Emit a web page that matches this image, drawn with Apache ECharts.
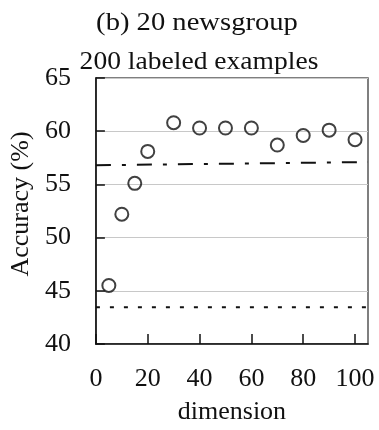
<!DOCTYPE html>
<html>
<head>
<meta charset="utf-8">
<script src="https://cdn.jsdelivr.net/npm/echarts@6/dist/echarts.min.js"></script>
<style>html,body{margin:0;padding:0;background:#fff;}#c{width:379px;height:430px;}</style>
</head>
<body>
<div id="c"></div>
<script>
var titleLine1 = "(b) 20 newsgroup";
var titleLine2 = "200 labeled examples";
var xName = "dimension";
var yName = "Accuracy (%)";
var dims = [5, 10, 15, 20, 30, 40, 50, 60, 70, 80, 90, 100];
var accuracy = [45.5, 52.2, 55.1, 58.1, 60.8, 60.3, 60.3, 60.3, 58.7, 59.6, 60.1, 59.2];
var refX = [0, 105];
var dashDotY = [56.8, 57.1];
var dottedY = [43.45, 43.45];

var FONT = "'Liberation Serif', 'Times New Roman', serif";
function pairs(xs, ys) { return xs.map(function (x, i) { return [x, ys[i]]; }); }

var chart = echarts.init(document.getElementById('c'), null, {renderer: 'canvas'});
chart.setOption({
  animation: false,
  backgroundColor: '#fff',
  graphic: [
    {type: 'text', x: 197, y: 23, scaleX: 1.1, style: {text: titleLine1, font: '26px ' + FONT, fill: '#111', align: 'center', verticalAlign: 'middle'}},
    {type: 'text', x: 199, y: 62, scaleX: 1.06, style: {text: titleLine2, font: '26px ' + FONT, fill: '#111', align: 'center', verticalAlign: 'middle'}}
  ],
  grid: {left: 95, right: 11, top: 78, bottom: 85, show: true, borderColor: '#555', borderWidth: 1.5, containLabel: false},
  xAxis: {
    type: 'value', min: 0, max: 105, interval: 20,
    name: xName, nameLocation: 'middle', nameGap: 55,
    nameTextStyle: {fontFamily: FONT, fontSize: 26, color: '#111'},
    axisLine: {show: true, onZero: false, lineStyle: {color: '#111', width: 1.5}},
    axisTick: {show: true, inside: true, length: 10, lineStyle: {color: '#111', width: 1.5}},
    axisLabel: {fontFamily: FONT, fontSize: 26, color: '#111', margin: 22, showMaxLabel: false},
    splitLine: {show: false}
  },
  yAxis: {
    type: 'value', min: 40, max: 65, interval: 5,
    name: yName, nameLocation: 'middle', nameGap: 52, nameRotate: 90,
    nameTextStyle: {fontFamily: FONT, fontSize: 26, color: '#111', padding: [0, 0, 0, 14]},
    axisLine: {show: true, lineStyle: {color: '#111', width: 1.5}},
    axisTick: {show: true, inside: true, length: 9, lineStyle: {color: '#111', width: 1.5}},
    axisLabel: {fontFamily: FONT, fontSize: 26, color: '#111', margin: 25},
    splitLine: {show: true, lineStyle: {color: '#c8c8c8', width: 1}}
  },
  series: [
    {type: 'line', data: pairs(refX, dashDotY), symbol: 'none', silent: true,
     lineStyle: {color: '#111', width: 2, type: [15, 11, 4, 11]}},
    {type: 'line', data: pairs(refX, dottedY), symbol: 'none', silent: true,
     lineStyle: {color: '#111', width: 2, type: [4, 10]}},
    {type: 'scatter', data: pairs(dims, accuracy), symbol: 'circle', symbolSize: 13,
     itemStyle: {color: 'rgba(255,255,255,0)', borderColor: '#111', borderWidth: 2}}
  ]
});
</script>
</body>
</html>
